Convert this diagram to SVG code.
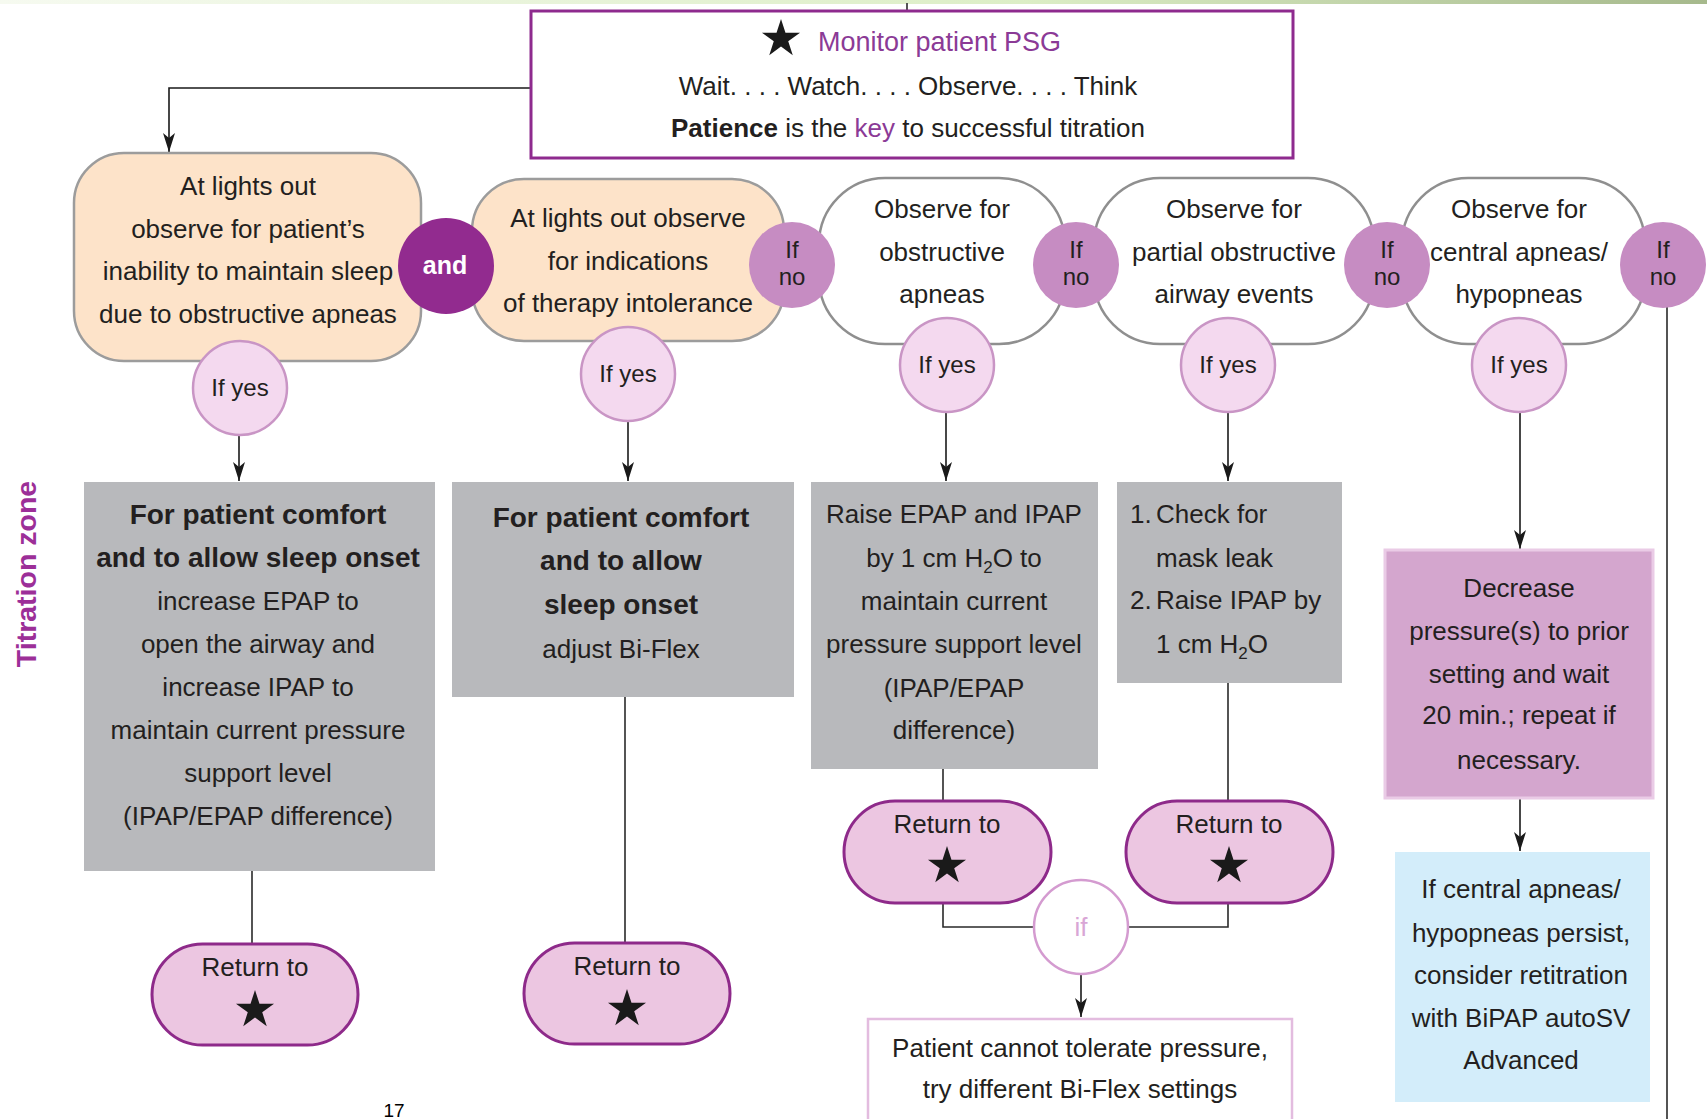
<svg xmlns="http://www.w3.org/2000/svg" width="1707" height="1119" viewBox="0 0 1707 1119">
  <defs>
    <linearGradient id="topBand" x1="0" y1="0" x2="1" y2="0">
      <stop offset="0" stop-color="#F6FAF0"/>
      <stop offset="0.6" stop-color="#DCEEC6"/>
      <stop offset="1" stop-color="#A6B98C"/>
    </linearGradient>
    <path id="star" d="M0,-20 L4.47,-6.15 L19.02,-6.18 L7.23,2.35 L11.76,16.18 L0,7.6 L-11.76,16.18 L-7.23,2.35 L-19.02,-6.18 L-4.47,-6.15 Z"/>
    <marker id="arrow" markerUnits="userSpaceOnUse" markerWidth="20" markerHeight="12" viewBox="0 0 20 12" refX="19" refY="6" orient="auto">
      <path d="M0,0 L19,6 L0,12 L5,6 Z" fill="#1A1A1A"/>
    </marker>
  </defs>
  <style>
    text { font-family: 'Liberation Sans', Arial, Helvetica, sans-serif; fill: #231F20; }
    .t { font-size: 26px; text-anchor: middle; }
    .tl { font-size: 26px; text-anchor: start; }
    .bold { font-size: 28px; font-weight: bold; text-anchor: middle; }
    .peach { fill: #FDE3C9; stroke: #9C9C9C; stroke-width: 2.5; }
    .white { fill: #FFFFFF; stroke: #8F8F8F; stroke-width: 2.5; }
    .gray { fill: #B8B9BC; }
    .pill { fill: #ECC6E1; stroke: #8E2A8A; stroke-width: 3; }
    .ifyes { fill: #F4D9EF; stroke: #C995C5; stroke-width: 2.5; }
    .ifno { fill: #C68CC2; }
    .small { font-size: 24px; text-anchor: middle; }
    .line { fill: none; stroke: #2A2A2A; stroke-width: 1.6; }
    .arr { fill: none; stroke: #1A1A1A; stroke-width: 1.6; marker-end: url(#arrow); }
    .purple { fill: #8B3A96; }
  </style>

  <!-- page header band -->
  <rect x="0" y="0" width="1707" height="4" fill="url(#topBand)"/>
  <line x1="907" y1="3" x2="907" y2="10" stroke="#555555" stroke-width="2"/>

  <!-- side label -->
  <text x="36" y="574" transform="rotate(-90 36 574)" font-size="28.5" font-weight="bold" text-anchor="middle" style="fill:#9C2F98">Titration zone</text>

  <!-- connectors -->
  <g id="connectors">
    <path class="arr" d="M530,88 H169 V152"/>
    <path class="arr" d="M239,435 V481"/>
    <path class="arr" d="M628,421 V481"/>
    <path class="arr" d="M946,412 V481"/>
    <path class="arr" d="M1228,412 V481"/>
    <path class="arr" d="M1520,412 V549"/>
    <path class="arr" d="M1520,798 V851"/>
    <path class="arr" d="M1081,974 V1017"/>
    <path class="line" d="M252,871 V944"/>
    <path class="line" d="M625,697 V943"/>
    <path class="line" d="M943,769 V801"/>
    <path class="line" d="M1228,683 V801"/>
    <path class="line" d="M943,903 V927 H1034"/>
    <path class="line" d="M1228,903 V927 H1128"/>
    <path class="line" d="M1667,306 V1119"/>
  </g>

  <!-- monitor box -->
  <g id="monitor">
    <rect x="531" y="11" width="762" height="147" fill="#FFFFFF" stroke="#8E2A8E" stroke-width="3"/>
    <use href="#star" x="781" y="39" fill="#1A1A1A"/>
    <text x="818" y="51" font-size="27" class="purple">Monitor patient PSG</text>
    <text x="908" y="95" class="t">Wait. . . . Watch. . . . Observe. . . . Think</text>
    <text x="908" y="137" class="t" font-size="26.5"><tspan font-weight="bold">Patience</tspan> is the <tspan class="purple">key</tspan> to successful titration</text>
  </g>

  <!-- top row: observation nodes -->
  <g id="lights-out-sleep">
    <rect class="peach" x="74" y="153" width="347" height="208" rx="50" ry="50"/>
    <text class="t" x="248" y="195">At lights out</text>
    <text class="t" x="248" y="238">observe for patient’s</text>
    <text class="t" x="248" y="280">inability to maintain sleep</text>
    <text class="t" x="248" y="323">due to obstructive apneas</text>
  </g>

  <g id="lights-out-intolerance">
    <rect class="peach" x="472" y="179" width="312" height="162" rx="52" ry="52"/>
    <text class="t" x="628" y="227">At lights out observe</text>
    <text class="t" x="628" y="270">for indications</text>
    <text class="t" x="628" y="312">of therapy intolerance</text>
  </g>

  <g id="obstructive-apneas">
    <rect class="white" x="819" y="178" width="246" height="166" rx="66" ry="66"/>
    <text class="t" x="942" y="218">Observe for</text>
    <text class="t" x="942" y="261">obstructive</text>
    <text class="t" x="942" y="303">apneas</text>
  </g>

  <g id="partial-obstructive">
    <rect class="white" x="1094" y="178" width="280" height="166" rx="66" ry="66"/>
    <text class="t" x="1234" y="218">Observe for</text>
    <text class="t" x="1234" y="261">partial obstructive</text>
    <text class="t" x="1234" y="303">airway events</text>
  </g>

  <g id="central-apneas">
    <rect class="white" x="1402" y="178" width="243" height="166" rx="66" ry="66"/>
    <text class="t" x="1519" y="218">Observe for</text>
    <text class="t" x="1519" y="261">central apneas/</text>
    <text class="t" x="1519" y="303">hypopneas</text>
  </g>

  <!-- decision badges -->
  <g id="and">
    <circle cx="446" cy="266" r="48" fill="#922B8F"/>
    <text x="445" y="274" font-size="25" font-weight="bold" text-anchor="middle" style="fill:#FFFFFF">and</text>
  </g>

  <g id="if-no-1">
    <circle class="ifno" cx="792" cy="265" r="43"/>
    <text class="small" x="792" y="258">If</text>
    <text class="small" x="792" y="285">no</text>
  </g>
  <g id="if-no-2">
    <circle class="ifno" cx="1076" cy="265" r="43"/>
    <text class="small" x="1076" y="258">If</text>
    <text class="small" x="1076" y="285">no</text>
  </g>
  <g id="if-no-3">
    <circle class="ifno" cx="1387" cy="265" r="43"/>
    <text class="small" x="1387" y="258">If</text>
    <text class="small" x="1387" y="285">no</text>
  </g>
  <g id="if-no-4">
    <circle class="ifno" cx="1663" cy="265" r="43"/>
    <text class="small" x="1663" y="258">If</text>
    <text class="small" x="1663" y="285">no</text>
  </g>

  <g id="if-yes-1">
    <circle class="ifyes" cx="240" cy="388" r="47"/>
    <text class="small" x="240" y="396">If yes</text>
  </g>
  <g id="if-yes-2">
    <circle class="ifyes" cx="628" cy="374" r="47"/>
    <text class="small" x="628" y="382">If yes</text>
  </g>
  <g id="if-yes-3">
    <circle class="ifyes" cx="947" cy="365" r="47"/>
    <text class="small" x="947" y="373">If yes</text>
  </g>
  <g id="if-yes-4">
    <circle class="ifyes" cx="1228" cy="365" r="47"/>
    <text class="small" x="1228" y="373">If yes</text>
  </g>
  <g id="if-yes-5">
    <circle class="ifyes" cx="1519" cy="365" r="47"/>
    <text class="small" x="1519" y="373">If yes</text>
  </g>

  <!-- action boxes -->
  <g id="comfort-epap-ipap">
    <rect class="gray" x="84" y="482" width="351" height="389"/>
    <text class="bold" x="258" y="524">For patient comfort</text>
    <text class="bold" x="258" y="567">and to allow sleep onset</text>
    <text class="t" x="258" y="610">increase EPAP to</text>
    <text class="t" x="258" y="653">open the airway and</text>
    <text class="t" x="258" y="696">increase IPAP to</text>
    <text class="t" x="258" y="739">maintain current pressure</text>
    <text class="t" x="258" y="782">support level</text>
    <text class="t" x="258" y="825">(IPAP/EPAP difference)</text>
  </g>

  <g id="comfort-biflex">
    <rect class="gray" x="452" y="482" width="342" height="215"/>
    <text class="bold" x="621" y="527" font-size="28.5">For patient comfort</text>
    <text class="bold" x="621" y="570" font-size="28.5">and to allow</text>
    <text class="bold" x="621" y="614" font-size="28.5">sleep onset</text>
    <text class="t" x="621" y="658">adjust Bi-Flex</text>
  </g>

  <g id="raise-epap-ipap">
    <rect class="gray" x="811" y="482" width="287" height="287"/>
    <text class="t" x="954" y="523">Raise EPAP and IPAP</text>
    <text class="t" x="954" y="567">by 1 cm H<tspan font-size="17" dy="6">2</tspan><tspan dy="-6">O to</tspan></text>
    <text class="t" x="954" y="610">maintain current</text>
    <text class="t" x="954" y="653">pressure support level</text>
    <text class="t" x="954" y="697">(IPAP/EPAP</text>
    <text class="t" x="954" y="739">difference)</text>
  </g>

  <g id="mask-leak">
    <rect class="gray" x="1117" y="482" width="225" height="201"/>
    <text class="tl" x="1130" y="523">1.</text>
    <text class="tl" x="1156" y="523">Check for</text>
    <text class="tl" x="1156" y="567">mask leak</text>
    <text class="tl" x="1130" y="609">2.</text>
    <text class="tl" x="1156" y="609">Raise IPAP by</text>
    <text class="tl" x="1156" y="653">1 cm H<tspan font-size="17" dy="6">2</tspan><tspan dy="-6">O</tspan></text>
  </g>

  <g id="decrease-pressure">
    <rect x="1385" y="550" width="268" height="248" fill="#D4A6CE" stroke="#EACBE6" stroke-width="3"/>
    <text class="t" x="1519" y="597">Decrease</text>
    <text class="t" x="1519" y="640">pressure(s) to prior</text>
    <text class="t" x="1519" y="683">setting and wait</text>
    <text class="t" x="1519" y="724">20 min.; repeat if</text>
    <text class="t" x="1519" y="769">necessary.</text>
  </g>

  <g id="retitration">
    <rect x="1395" y="852" width="255" height="250" fill="#D3EDFA"/>
    <text class="t" x="1521" y="898">If central apneas/</text>
    <text class="t" x="1521" y="942">hypopneas persist,</text>
    <text class="t" x="1521" y="984">consider retitration</text>
    <text class="t" x="1521" y="1027">with BiPAP autoSV</text>
    <text class="t" x="1521" y="1069">Advanced</text>
  </g>

  <!-- return-to-monitor pills -->
  <g id="return-1">
    <rect class="pill" x="152" y="944" width="206" height="101" rx="50.5" ry="50.5"/>
    <text class="t" x="255" y="976">Return to</text>
    <use href="#star" x="255" y="1010" fill="#1A1A1A"/>
  </g>
  <g id="return-2">
    <rect class="pill" x="524" y="943" width="206" height="101" rx="50.5" ry="50.5"/>
    <text class="t" x="627" y="975">Return to</text>
    <use href="#star" x="627" y="1009" fill="#1A1A1A"/>
  </g>
  <g id="return-3">
    <rect class="pill" x="844" y="801" width="207" height="102" rx="51" ry="51"/>
    <text class="t" x="947" y="833">Return to</text>
    <use href="#star" x="947" y="866" fill="#1A1A1A"/>
  </g>
  <g id="return-4">
    <rect class="pill" x="1126" y="801" width="207" height="102" rx="51" ry="51"/>
    <text class="t" x="1229" y="833">Return to</text>
    <use href="#star" x="1229" y="866" fill="#1A1A1A"/>
  </g>

  <!-- intolerance branch -->
  <g id="if">
    <circle cx="1081" cy="927" r="47" fill="#FFFFFF" stroke="#D49BD0" stroke-width="2.5"/>
    <text class="t" x="1081" y="936" style="fill:#D9A6D6">if</text>
  </g>
  <g id="try-biflex">
    <rect x="868" y="1019" width="424" height="110" fill="#FFFFFF" stroke="#E3BCDF" stroke-width="2.5"/>
    <text class="t" x="1080" y="1057">Patient cannot tolerate pressure,</text>
    <text class="t" x="1080" y="1098">try different Bi-Flex settings</text>
  </g>

  <!-- page number -->
  <text x="394" y="1117" font-size="19" text-anchor="middle" style="fill:#000000">17</text>
</svg>
